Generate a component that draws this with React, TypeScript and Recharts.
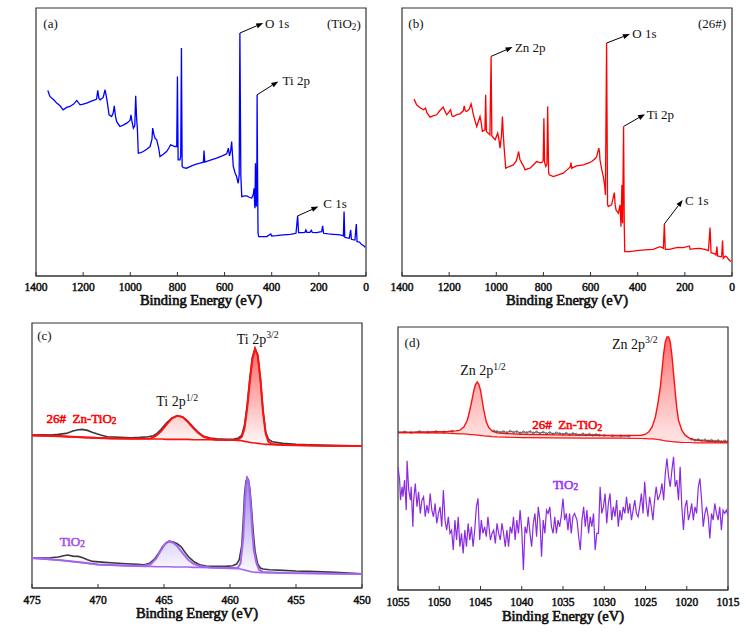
import React from 'react';
import { ComposedChart, Line, Area, XAxis, YAxis, ReferenceLine, ReferenceDot, ReferenceArea, Label } from 'recharts';

const FONT = "'Liberation Serif', 'Times New Roman', serif";
const AX = '#333';

// ---------- (a) survey TiO2 : [binding energy, intensity] ----------
const surveyTiO2: [number, number][] = [
  [1350, 556], [1341, 538], [1325, 528], [1312, 518], [1298, 510], [1285, 498], [1270, 505], [1256, 508], [1240, 515], [1227, 526], [1213, 513], [1200, 515], [1185, 518], [1165, 524], [1150, 528], [1143, 530], [1138, 556], [1133, 532], [1128, 528], [1115, 535], [1107, 558], [1102, 540], [1097, 518], [1090, 483], [1079, 478], [1072, 490], [1068, 510], [1063, 480], [1058, 463], [1044, 448], [1030, 452], [1015, 458], [1001, 466], [997, 483], [992, 460], [987, 443], [981, 450], [977, 540], [973, 470], [970, 443], [966, 368], [955, 370], [945, 373], [930, 380], [916, 388], [908, 410], [905, 443], [900, 425], [895, 413], [888, 408], [880, 385], [874, 358], [860, 365], [846, 373], [835, 385], [829, 393], [818, 390], [810, 388], [803, 388], [800, 598], [797, 348], [789, 348], [786, 360], [783, 683], [780, 328], [775, 325], [761, 323], [740, 330], [720, 335], [704, 338], [690, 341], [687, 376], [684, 341], [660, 347], [634, 353], [610, 360], [591, 366], [584, 383], [579, 360], [574, 375], [570, 403], [566, 360], [563, 328], [556, 310], [549, 298], [545, 285], [542, 278], [538, 303], [535, 728], [531, 300], [527, 238], [515, 240], [506, 240], [495, 236], [485, 233], [478, 245], [475, 263], [472, 210], [471, 203], [469, 338], [467, 240], [465, 208], [463, 300], [462, 543], [460, 300], [458, 128], [455, 118], [440, 118], [421, 118], [404, 126], [400, 120], [380, 121], [351, 123], [320, 125], [297, 128], [290, 180], [286, 130], [270, 130], [259, 131], [255, 138], [251, 131], [238, 131], [232, 137], [228, 131], [209, 130], [195, 132], [188, 133], [184, 150], [180, 128], [160, 126], [139, 125], [120, 124], [110, 123], [96, 120], [93, 193], [90, 116], [80, 114], [71, 113], [65, 138], [62, 110], [55, 109], [47, 108], [41, 156], [38, 103], [30, 102], [25, 100], [20, 95], [15, 93], [8, 90], [4, 86],
];

// ---------- (b) survey 26# ----------
const surveyZn: [number, number][] = [
  [1349, 530], [1338, 513], [1325, 505], [1309, 498], [1300, 503], [1295, 490], [1281, 476], [1268, 480], [1253, 483], [1240, 495], [1225, 506], [1215, 490], [1210, 483], [1194, 498], [1188, 480], [1182, 478], [1165, 484], [1154, 486], [1140, 495], [1136, 510], [1131, 495], [1126, 493], [1115, 500], [1107, 516], [1102, 500], [1097, 483], [1090, 465], [1083, 448], [1075, 465], [1069, 478], [1064, 460], [1059, 433], [1048, 438], [1045, 543], [1042, 433], [1034, 428], [1027, 423], [1022, 658], [1019, 420], [1017, 418], [1005, 408], [994, 428], [989, 410], [984, 383], [978, 420], [974, 478], [970, 420], [967, 388], [960, 323], [945, 328], [928, 333], [915, 345], [905, 373], [900, 350], [892, 338], [885, 330], [878, 318], [865, 322], [857, 323], [840, 335], [829, 343], [815, 340], [807, 340], [801, 345], [798, 473], [795, 340], [790, 328], [785, 335], [782, 508], [778, 310], [775, 303], [758, 298], [740, 302], [716, 308], [700, 318], [687, 326], [683, 340], [680, 323], [660, 330], [631, 333], [610, 338], [595, 343], [580, 352], [574, 358], [565, 383], [562, 370], [560, 348], [553, 320], [546, 298], [540, 270], [537, 243], [532, 698], [528, 215], [525, 208], [511, 213], [499, 250], [496, 215], [492, 198], [482, 188], [475, 213], [471, 148], [467, 273], [465, 170], [464, 158], [460, 448], [457, 150], [455, 73], [433, 73], [404, 76], [370, 78], [334, 80], [306, 88], [291, 83], [287, 156], [283, 80], [265, 80], [249, 83], [230, 86], [206, 85], [181, 90], [177, 80], [160, 82], [136, 83], [115, 80], [100, 76], [93, 145], [89, 70], [75, 67], [68, 63], [64, 88], [61, 60], [50, 58], [44, 58], [40, 106], [37, 53], [28, 60], [23, 58], [15, 50], [8, 45], [4, 43],
];
const surveyTicks = [1400, 1200, 1000, 800, 600, 400, 200, 0];

// ---------- (c) Ti 2p ----------
const ti26Raw: [number, number][] = [
  [475, 460], [474.2, 461], [473.6, 460], [473, 462], [472.4, 465], [471.9, 472], [471.5, 476], [471.2, 477], [470.8, 474], [470.4, 468], [469.8, 460], [469.3, 455], [468.3, 453], [467.5, 452], [466.8, 453], [466.2, 455], [465.8, 458], [465.5, 466], [465.2, 478], [464.8, 497], [464.4, 511], [464.0, 518], [463.6, 515], [463.2, 502], [462.8, 484], [462.4, 468], [462.0, 456], [461.5, 451], [461.0, 449], [460.3, 447], [459.7, 448], [459.4, 450], [459.1, 460], [458.9, 490], [458.7, 550], [458.5, 630], [458.3, 695], [458.1, 720], [457.9, 700], [457.7, 630], [457.5, 535], [457.3, 470], [457.1, 448], [456.8, 440], [456.0, 435], [455.0, 432], [454.0, 431], [452.5, 429], [451.0, 428], [450.0, 427],
];
// [energy, background, envelope]
const ti26Fit: [number, number, number][] = [
  [475.0, 459, 459], [473.0, 456, 457], [471.0, 453, 453], [469.0, 450, 450], [467.0, 449, 449], [466.0, 448, 450], [465.6, 448, 458], [465.2, 448, 472], [464.8, 447, 492], [464.4, 447, 510], [464.0, 447, 518], [463.6, 447, 514], [463.2, 447, 500], [462.8, 446, 482], [462.4, 446, 466], [462.0, 446, 455], [461.5, 446, 449], [461.0, 445, 446], [460.0, 445, 445], [459.4, 444, 446], [459.1, 443, 455], [458.9, 441, 480], [458.7, 440, 540], [458.5, 438, 620], [458.3, 437, 690], [458.1, 436, 720], [457.9, 435, 700], [457.7, 434, 630], [457.5, 433, 530], [457.3, 432, 465], [457.1, 432, 440], [456.8, 431, 433], [456.0, 430, 430], [453.0, 428, 428], [450.0, 427, 427],
];
const tiO2Raw: [number, number][] = [
  [475, 90], [474.2, 90], [473.6, 91], [473, 93], [472.6, 97], [472.3, 99], [471.9, 96], [471.5, 95], [471.2, 92], [470.8, 85], [470.4, 80], [469.5, 77], [468.7, 75], [467.9, 73], [467, 71], [466.5, 70], [466.1, 74], [465.7, 88], [465.4, 105], [465.1, 125], [464.8, 137], [464.6, 141], [464.3, 138], [464.0, 133], [463.7, 124], [463.4, 107], [463.1, 92], [462.7, 78], [462.3, 70], [461.8, 66], [461.0, 65], [460.3, 65], [459.8, 67], [459.5, 72], [459.3, 85], [459.1, 130], [459.0, 200], [458.9, 280], [458.8, 320], [458.7, 332], [458.6, 325], [458.5, 300], [458.4, 255], [458.3, 200], [458.2, 150], [458.1, 110], [457.9, 72], [457.7, 60], [457.5, 57], [457, 55], [456, 53], [455, 51], [454, 50], [452, 47], [450, 43],
];
const tiO2Fit: [number, number, number][] = [
  [475.0, 90, 90], [473.0, 84, 84], [471.0, 75, 76], [470.0, 70, 71], [468.0, 67, 68], [466.5, 65, 67], [466.0, 65, 72], [465.6, 64, 88], [465.2, 64, 115], [464.9, 64, 133], [464.6, 64, 140], [464.3, 63, 136], [464.0, 63, 126], [463.6, 63, 106], [463.2, 63, 86], [462.8, 62, 73], [462.3, 62, 66], [461.5, 61, 62], [460.0, 59, 60], [459.4, 58, 61], [459.2, 57, 75], [459.0, 55, 150], [458.9, 54, 240], [458.8, 53, 305], [458.7, 52, 330], [458.6, 51, 322], [458.5, 50, 285], [458.4, 49, 230], [458.3, 48, 165], [458.2, 48, 115], [458.0, 47, 75], [457.8, 47, 55], [457.5, 46, 48], [456.0, 45, 45], [450.0, 42, 42],
];
const tiTicks = [475, 470, 465, 460, 455, 450];

// ---------- (d) Zn 2p ----------
const zn26Raw: ([number, number] | [number, null])[] = [
  [1055, 474], [1054.2, 475], [1053.4, 473], [1052.4, 476], [1051.4, 474], [1050.4, 476], [1049.4, 475], [1048.4, 477], [1046, null],
  [1043.4, 478], [1043.0, 476], [1042.6, 474], [1042.2, 476], [1041.8, 473], [1041.4, 477], [1041.0, 474], [1040.6, 476], [1040.2, 472], [1039.8, 475], [1039.4, 473], [1039.0, 476], [1038.6, 472], [1038.2, 475], [1037.8, 471], [1037.4, 474], [1037.0, 470], [1036.6, 473], [1036.2, 469], [1035.8, 472], [1035.4, 470], [1035.0, 468], [1034.6, 471], [1034.2, 467], [1033.8, 470], [1033.4, 468], [1033.0, 466], [1032.6, 469], [1032.2, 466], [1031.8, 468], [1031.4, 465], [1031.0, 467], [1030.6, 465], [1030.0, 464], [1029.0, 463], [1028.0, 463], [1027.0, 462], [1022, null],
  [1019.4, 453], [1019.0, 450], [1018.6, 452], [1018.2, 449], [1017.8, 451], [1017.4, 448], [1017.0, 450], [1016.6, 447], [1016.2, 449], [1015.8, 446], [1015.4, 448], [1015.0, 446],
];
const zn26Fit: [number, number, number][] = [
  [1055.0, 473, 473], [1052.0, 472, 474], [1049.0, 471, 476], [1048.0, 470, 478], [1047.5, 469, 480], [1047.0, 469, 490], [1046.6, 468, 510], [1046.3, 467, 540], [1046.0, 467, 575], [1045.8, 466, 600], [1045.6, 466, 617], [1045.4, 465, 625], [1045.2, 465, 618], [1045.0, 464, 600], [1044.8, 464, 570], [1044.6, 463, 540], [1044.3, 462, 505], [1044.0, 462, 488], [1043.6, 461, 478], [1043.0, 460, 472], [1042.0, 459, 470], [1040.0, 458, 468], [1036.0, 457, 466], [1032.0, 456, 465], [1028.0, 456, 464], [1025.5, 455, 465], [1025.0, 455, 468], [1024.6, 454, 475], [1024.2, 454, 490], [1023.8, 453, 520], [1023.5, 452, 560], [1023.2, 451, 610], [1023.0, 450, 660], [1022.8, 449, 710], [1022.6, 448, 745], [1022.4, 447, 760], [1022.2, 447, 760], [1022.0, 446, 745], [1021.8, 446, 705], [1021.6, 445, 650], [1021.4, 445, 595], [1021.2, 444, 545], [1021.0, 444, 510], [1020.6, 443, 480], [1020.2, 443, 465], [1019.6, 443, 455], [1019.0, 442, 451], [1018.0, 442, 448], [1017.0, 442, 446], [1015.0, 442, 444],
];
const znTiO2: [number, number][] = [
  [1055.0, 370], [1054.8, 330], [1054.7, 270], [1054.5, 310], [1054.4, 280], [1054.2, 330], [1054.0, 240], [1053.9, 388], [1053.7, 300], [1053.5, 270], [1053.4, 310], [1053.2, 190], [1053.1, 270], [1052.9, 320], [1052.7, 250], [1052.5, 295], [1052.3, 230], [1052.1, 270], [1051.9, 280], [1051.7, 220], [1051.5, 255], [1051.3, 230], [1051.1, 290], [1050.9, 240], [1050.7, 220], [1050.5, 260], [1050.3, 200], [1050.1, 230], [1049.9, 250], [1049.7, 190], [1049.5, 300], [1049.3, 210], [1049.1, 180], [1048.9, 220], [1048.7, 170], [1048.5, 180], [1048.3, 120], [1048.1, 210], [1047.9, 150], [1047.7, 220], [1047.5, 130], [1047.3, 170], [1047.1, 110], [1046.9, 180], [1046.7, 130], [1046.5, 200], [1046.3, 150], [1046.1, 190], [1045.9, 130], [1045.7, 180], [1045.5, 250], [1045.3, 275], [1045.1, 150], [1044.9, 210], [1044.7, 170], [1044.5, 190], [1044.3, 160], [1044.1, 220], [1043.8, 150], [1043.6, 170], [1043.4, 180], [1043.2, 140], [1043.0, 200], [1042.8, 170], [1042.6, 150], [1042.4, 200], [1042.2, 170], [1042.0, 130], [1041.8, 180], [1041.6, 130], [1041.4, 190], [1041.2, 170], [1041.0, 220], [1040.8, 150], [1040.6, 210], [1040.4, 170], [1040.2, 240], [1040.0, 180], [1039.8, 60], [1039.6, 190], [1039.4, 170], [1039.2, 220], [1039.0, 170], [1038.8, 130], [1038.6, 200], [1038.4, 230], [1038.2, 160], [1038.0, 250], [1037.8, 210], [1037.6, 100], [1037.4, 210], [1037.2, 170], [1037.0, 240], [1036.8, 230], [1036.6, 250], [1036.4, 190], [1036.2, 170], [1036.0, 220], [1035.8, 170], [1035.6, 210], [1035.4, 190], [1035.2, 225], [1035.0, 275], [1034.8, 210], [1034.6, 230], [1034.4, 180], [1034.2, 230], [1034.0, 170], [1033.8, 220], [1033.6, 230], [1033.3, 210], [1033.1, 160], [1032.9, 120], [1032.7, 210], [1032.5, 250], [1032.3, 190], [1032.1, 240], [1031.9, 170], [1031.7, 220], [1031.5, 190], [1031.3, 230], [1031.1, 120], [1030.9, 170], [1030.7, 170], [1030.5, 310], [1030.3, 230], [1030.1, 250], [1029.9, 290], [1029.7, 200], [1029.5, 260], [1029.3, 290], [1029.1, 210], [1028.9, 250], [1028.7, 220], [1028.5, 270], [1028.3, 190], [1028.1, 240], [1027.9, 210], [1027.7, 250], [1027.5, 230], [1027.3, 280], [1027.1, 230], [1026.9, 260], [1026.7, 210], [1026.5, 240], [1026.3, 270], [1026.1, 230], [1025.9, 220], [1025.7, 250], [1025.5, 290], [1025.3, 230], [1025.1, 325], [1024.9, 260], [1024.7, 220], [1024.5, 280], [1024.3, 250], [1024.1, 210], [1023.9, 270], [1023.7, 310], [1023.5, 270], [1023.2, 290], [1023.0, 320], [1022.8, 270], [1022.6, 350], [1022.4, 395], [1022.2, 340], [1022.0, 310], [1021.8, 360], [1021.6, 400], [1021.4, 310], [1021.2, 330], [1021.0, 270], [1020.8, 370], [1020.6, 250], [1020.4, 180], [1020.2, 250], [1020.0, 270], [1019.8, 210], [1019.6, 230], [1019.4, 260], [1019.2, 210], [1019.0, 250], [1018.8, 230], [1018.6, 310], [1018.4, 335], [1018.2, 270], [1018.0, 190], [1017.8, 230], [1017.6, 250], [1017.4, 220], [1017.2, 155], [1017.0, 230], [1016.8, 210], [1016.6, 260], [1016.4, 230], [1016.2, 210], [1016.0, 250], [1015.8, 180], [1015.6, 240], [1015.4, 230], [1015.2, 240], [1015.0, 225],
];
const znTicks = [1055, 1050, 1045, 1040, 1035, 1030, 1025, 1020, 1015];

// ---------- helpers ----------
const pts = (a: ([number, number] | [number, null])[]) => a.map(([e, i]) => ({ e, i }));
const fitRows = (a: [number, number, number][]) => a.map(([e, b, f]) => ({ e, bg: b, fit: f, band: [b, f] }));

// text style: serif regular, with a thin stroke of the same colour for the bold look
const txtStyle = (bold: boolean, color: string, w = 0.5): React.CSSProperties => ({
  fontFamily: FONT,
  fontWeight: 'normal',
  whiteSpace: 'pre',
  ...(bold ? { stroke: color, strokeWidth: w } : {}),
});

function arrowShape(p: any) {
  const { x1, y1, x2, y2 } = p;
  const ang = Math.atan2(y2 - y1, x2 - x1);
  const L = 7;
  const hw = 2.6;
  const bx = x2 - L * Math.cos(ang);
  const by = y2 - L * Math.sin(ang);
  const px = -Math.sin(ang) * hw;
  const py = Math.cos(ang) * hw;
  return (
    <g>
      <line x1={x1} y1={y1} x2={bx} y2={by} stroke="#000" strokeWidth={1} />
      <polygon points={`${x2},${y2} ${bx + px},${by + py} ${bx - px},${by - py}`} fill="#000" />
    </g>
  );
}

const arrow = (key: string, from: [number, number], to: [number, number]) => (
  <ReferenceLine key={key} segment={[{ x: from[0], y: from[1] }, { x: to[0], y: to[1] }]} shape={arrowShape} ifOverflow="visible" />
);

type NoteOpts = { anchor?: 'start' | 'middle' | 'end'; size?: number; bold?: boolean; color?: string };
const note = (key: string, at: [number, number], content: React.ReactNode, o: NoteOpts = {}) => {
  const color = o.color ?? '#111';
  return (
    <ReferenceDot
      key={key}
      x={at[0]}
      y={at[1]}
      r={0}
      ifOverflow="visible"
      shape={(p: any) => (
        <text x={p.cx} y={p.cy} textAnchor={o.anchor ?? 'start'} dominantBaseline="central" fontSize={o.size ?? 13} fill={color} style={txtStyle(!!o.bold, color, 0.55)}>
          {content}
        </text>
      )}
    />
  );
};

const withSub = (pre: string, s: string, post?: string) => (
  <>
    {pre}
    <tspan dy={3} fontSize="72%">{s}</tspan>
    {post ? <tspan dy={-3}>{post}</tspan> : null}
  </>
);
const withSup = (pre: string, s: string) => (
  <>
    {pre}
    <tspan dy={-5} fontSize="70%">{s}</tspan>
  </>
);

const yTitle = (dx: number, dy: number) => (props: any) => {
  const vb = props.viewBox || { x: 0, y: 0, width: 0, height: 0 };
  const cx = vb.x - dx;
  const cy = vb.y + vb.height / 2 + dy;
  return (
    <text x={cx} y={cy} transform={`rotate(-90 ${cx} ${cy})`} textAnchor="middle" dominantBaseline="central" fontSize={13.5} fill="#111" style={txtStyle(true, '#111', 0.6)}>
      Intensity(a.u)
    </text>
  );
};

const xTitle = (offset: number) => (props: any) => {
  const vb = props.viewBox || { x: 0, y: 0, width: 0, height: 0 };
  return (
    <text x={vb.x + vb.width / 2} y={vb.y + vb.height - offset} textAnchor="middle" fontSize={14.5} fill="#111" style={txtStyle(true, '#111', 0.65)}>
      Binding Energy (eV)
    </text>
  );
};

const tickText = (props: any) => (
  <text x={props.x} y={props.y + 8} textAnchor="middle" fontSize={11.5} fill="#111" style={txtStyle(true, '#111', 0.5)}>
    {props.payload?.value}
  </text>
);

type Cfg = {
  left: number; top: number; width: number; height: number;
  margin: { top: number; right: number; left: number; bottom: number };
  xDomain: [number, number]; yTop: number; ticks: number[];
  axisH: number; tickMargin: number; titleOffset: number; yDx: number; yDy: number;
  defs?: React.ReactNode;
};

function panel(c: Cfg, series: React.ReactNode[]) {
  return (
    <div style={{ position: 'absolute', left: c.left, top: c.top }}>
      <ComposedChart width={c.width} height={c.height} margin={c.margin}>
        {c.defs ? <defs>{c.defs}</defs> : null}
        <XAxis
          dataKey="e"
          type="number"
          domain={c.xDomain}
          reversed
          ticks={c.ticks}
          interval={0}
          allowDataOverflow
          height={c.axisH}
          tickSize={-4}
          tickMargin={c.tickMargin}
          axisLine={{ stroke: AX, strokeWidth: 1.2 }}
          tickLine={{ stroke: AX, strokeWidth: 1 }}
          tick={tickText}
        >
          <Label content={xTitle(c.titleOffset)} />
        </XAxis>
        <YAxis type="number" domain={[0, c.yTop]} width={0} tick={false} axisLine={false} tickLine={false} allowDataOverflow>
          <Label content={yTitle(c.yDx, c.yDy)} />
        </YAxis>
        {series}
        <ReferenceArea x1={c.xDomain[0]} x2={c.xDomain[1]} y1={0} y2={c.yTop} fill="none" stroke={AX} strokeWidth={1.2} ifOverflow="visible" />
      </ComposedChart>
    </div>
  );
}

const lineProps = { dot: false, activeDot: false, isAnimationActive: false, type: 'linear' as const, dataKey: 'i' };

export default function App() {
  const a = panel(
    { left: 0, top: 0, width: 373, height: 310, margin: { top: 8, right: 7, left: 36, bottom: 0 }, xDomain: [0, 1400], yTop: 803, ticks: surveyTicks, axisH: 34, tickMargin: 11, titleOffset: 5, yDx: 14, yDy: -2 },
    [
      <Line key="s" {...lineProps} data={pts(surveyTiO2)} stroke="#0000ff" strokeWidth={1.3} />,
      arrow('a1', [535, 728], [436, 758]),
      note('n1', [428, 758], 'O 1s'),
      arrow('a2', [462, 543], [372, 583]),
      note('n2', [354, 585], 'Ti 2p'),
      arrow('a3', [290, 180], [202, 208]),
      note('n3', [181, 216], 'C 1s'),
      note('n4', [1369, 756], '(a)'),
      note('n5', [22, 756], withSub('(TiO', '2', ')'), { anchor: 'end' }),
    ],
  );
  const b = panel(
    { left: 373, top: 0, width: 374, height: 310, margin: { top: 8, right: 15, left: 29, bottom: 0 }, xDomain: [0, 1400], yTop: 803, ticks: surveyTicks, axisH: 34, tickMargin: 11, titleOffset: 5, yDx: 12, yDy: 0 },
    [
      <Line key="s" {...lineProps} data={pts(surveyZn)} stroke="#ff0000" strokeWidth={1.3} />,
      arrow('b0', [1022, 658], [931, 686]),
      note('m0', [921, 686], 'Zn 2p'),
      arrow('b1', [532, 698], [433, 725]),
      note('m1', [423, 728], 'O 1s'),
      arrow('b2', [460, 448], [369, 485]),
      note('m2', [362, 483], 'Ti 2p'),
      arrow('b3', [287, 156], [209, 228]),
      note('m3', [199, 225], 'C 1s'),
      note('m4', [1373, 756], '(b)'),
      note('m5', [25, 756], '(26#)', { anchor: 'end' }),
    ],
  );
  const cDefs = (
    <>
      <linearGradient id="gRedC" x1="0" y1="0" x2="0" y2="1">
        <stop offset="0%" stopColor="#ff0000" stopOpacity={1} />
        <stop offset="100%" stopColor="#ff0000" stopOpacity={0.02} />
      </linearGradient>
      <linearGradient id="gPurC" x1="0" y1="0" x2="0" y2="1">
        <stop offset="0%" stopColor="#5a2be0" stopOpacity={1} />
        <stop offset="100%" stopColor="#6a3ce8" stopOpacity={0.02} />
      </linearGradient>
    </>
  );
  const ti26 = fitRows(ti26Fit);
  const tiO2 = fitRows(tiO2Fit);
  const c = panel(
    { left: 0, top: 300, width: 373, height: 334, margin: { top: 23, right: 11, left: 32, bottom: 0 }, xDomain: [450, 475], yTop: 797, ticks: tiTicks, axisH: 46, tickMargin: 12, titleOffset: 16, yDx: 15, yDy: -8, defs: cDefs },
    [
      <Area key="f1" data={ti26} dataKey="band" type="linear" stroke="none" fill="url(#gRedC)" isAnimationActive={false} activeDot={false} />,
      <Area key="f2" data={tiO2} dataKey="band" type="linear" stroke="none" fill="url(#gPurC)" isAnimationActive={false} activeDot={false} />,
      <Line key="r1" {...lineProps} data={pts(ti26Raw)} stroke="#3a3a3a" strokeWidth={1.6} />,
      <Line key="r2" {...lineProps} data={pts(tiO2Raw)} stroke="#3a3a3a" strokeWidth={1.6} />,
      <Line key="e1" {...lineProps} data={ti26} dataKey="fit" stroke="#ff1010" strokeWidth={2} />,
      <Line key="b1" {...lineProps} data={ti26} dataKey="bg" stroke="#ff1010" strokeWidth={1.6} />,
      <Line key="e2" {...lineProps} data={tiO2} dataKey="fit" stroke="#a464f2" strokeWidth={2} />,
      <Line key="b2" {...lineProps} data={tiO2} dataKey="bg" stroke="#a464f2" strokeWidth={1.6} />,
      note('c0', [474.6, 760], '(c)'),
      note('c1', [457.9, 748], withSup('Ti 2p', '3/2'), { anchor: 'middle', size: 14 }),
      note('c2', [464.0, 560], withSup('Ti 2p', '1/2'), { anchor: 'middle', size: 14 }),
      note('c3', [473.9, 510], withSub('26#  Zn-TiO', '2'), { bold: true, color: '#ff0000' }),
      note('c4', [472.9, 140], withSub('TiO', '2'), { bold: true, color: '#a050f0' }),
    ],
  );
  const dDefs = (
    <linearGradient id="gRedD" x1="0" y1="0" x2="0" y2="1">
      <stop offset="0%" stopColor="#ff0000" stopOpacity={0.95} />
      <stop offset="100%" stopColor="#ff3030" stopOpacity={0.2} />
    </linearGradient>
  );
  const zn = fitRows(zn26Fit);
  const d = panel(
    { left: 373, top: 300, width: 374, height: 334, margin: { top: 27, right: 19, left: 25, bottom: 0 }, xDomain: [1015, 1055], yTop: 790, ticks: znTicks, axisH: 44, tickMargin: 12, titleOffset: 13, yDx: 15, yDy: -16, defs: dDefs },
    [
      <Area key="f" data={zn} dataKey="band" type="linear" stroke="none" fill="url(#gRedD)" isAnimationActive={false} activeDot={false} />,
      <Line key="raw" {...lineProps} data={pts(zn26Raw)} stroke="#444" strokeWidth={0.8} dot={{ r: 1, stroke: '#444', strokeWidth: 0.6, fill: 'none' }} />,
      <Line key="e" {...lineProps} data={zn} dataKey="fit" stroke="#ff1010" strokeWidth={1.4} />,
      <Line key="bg" {...lineProps} data={zn} dataKey="bg" stroke="#ff1010" strokeWidth={1.2} />,
      <Line key="n" {...lineProps} data={pts(znTiO2)} stroke="#8a2be2" strokeWidth={1.2} />,
      note('d0', [1054.2, 742], '(d)'),
      note('d1', [1026.3, 738], withSup('Zn 2p', '3/2'), { anchor: 'middle', size: 14 }),
      note('d2', [1044.7, 658], withSup('Zn 2p', '1/2'), { anchor: 'middle', size: 14 }),
      note('d3', [1034.5, 496], withSub('26#  Zn-TiO', '2'), { anchor: 'middle', bold: true, color: '#ff0000' }),
      note('d4', [1034.7, 318], withSub('TiO', '2'), { anchor: 'middle', bold: true, color: '#9b30ff' }),
    ],
  );
  return (
    <div style={{ position: 'absolute', left: 0, top: 0, width: 747, height: 634, background: '#fff', fontFamily: FONT }}>
      {a}
      {b}
      {c}
      {d}
    </div>
  );
}
